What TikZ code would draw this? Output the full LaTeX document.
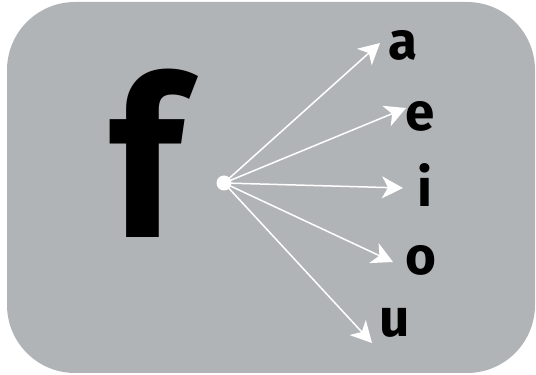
\documentclass[tikz,border=0pt]{standalone}
\usepackage{fontspec}
\setmainfont{Fira Sans}
\usetikzlibrary{arrows.meta}
\definecolor{panel}{HTML}{B1B4B7}
\definecolor{ink}{HTML}{000000}

\begin{document}
\begin{tikzpicture}[
    x=1pt,
    y=1pt,
    text=ink,
    ray/.style={-{Stealth[length=21pt,width=22pt,inset=6pt]}, draw=white, line width=1.5pt},
    vowel/.style={anchor=base, inner sep=0pt, font=\fontsize{53}{53}\selectfont\bfseries}
]
\useasboundingbox (0,0) rectangle (536,375);

% Background card.
\fill[panel, rounded corners=68pt] (7,2) rectangle (535,373);

% The big letter.
\node[anchor=base, inner sep=0pt, xscale=0.93, transform shape,
      font=\fontsize{222}{222}\selectfont\bfseries]
    (letter) at (146,137) {f};

% Source point and the vowel targets.
\node[circle, fill=white, inner sep=0pt, minimum size=15pt] (hub) at (224,192) {};

\node[vowel] (a) at (403,315) {a};
\node[vowel] (e) at (420.5,244) {e};
\node[vowel] (i) at (425,168) {i};
\node[vowel] (o) at (421,100) {o};
\node[vowel] (u) at (395,38) {u};

\coordinate (ta) at (380,332);
\coordinate (te) at (406,267);
\coordinate (ti) at (403,187);
\coordinate (to) at (393,113);
\coordinate (tu) at (372,32);

\foreach \t in {ta,te,ti,to,tu}
    \draw[ray] (hub.center) -- (\t);

\end{tikzpicture}
\end{document}
